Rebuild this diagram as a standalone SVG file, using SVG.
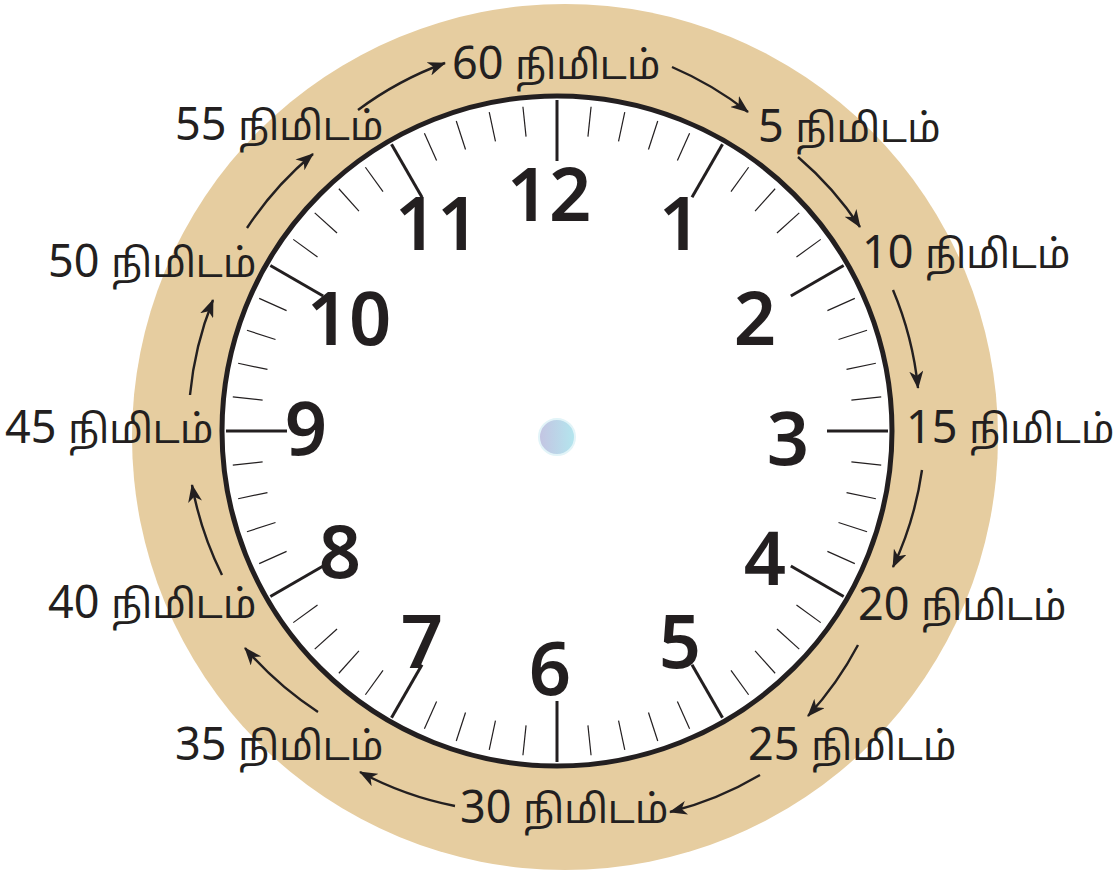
<svg xmlns="http://www.w3.org/2000/svg" xmlns:xlink="http://www.w3.org/1999/xlink" width="1115" height="875" viewBox="0 0 1115 875">
<style>
.lbl{font-family:"Noto Sans","Liberation Sans",sans-serif;font-size:45px;fill:#231f20}
.ta{font-family:"Noto Sans Tamil","Noto Sans",sans-serif;font-size:39px}
.num{font-family:"Noto Sans","Liberation Sans",sans-serif;font-weight:600;font-size:74px;fill:#231f20;text-anchor:middle}
.arr{fill:none;stroke:#231f20;stroke-width:2.4}
.minor{stroke:#231f20;stroke-width:1.2}
.major{stroke:#231f20;stroke-width:3}
</style>
<defs>
<marker id="ah" viewBox="0 0 18 14" markerWidth="18" markerHeight="14" refX="17" refY="7" orient="auto" markerUnits="userSpaceOnUse">
<path d="M0,0 L18,7 L0,14 L5,7 z" fill="#231f20"/>
</marker>
<linearGradient id="dotg" x1="0" y1="0" x2="1" y2="0">
<stop offset="0" stop-color="#c4c4e2"/>
<stop offset="1" stop-color="#b3e6ee"/>
</linearGradient>
<line id="mi" class="minor" x1="557" y1="105" x2="557" y2="135"/>
<line id="ma" class="major" x1="557" y1="100" x2="557" y2="161"/>
</defs>
<g id="band"><circle cx="565" cy="437" r="433" fill="#e6cda0"/></g>
<g id="face">
<circle cx="557" cy="431" r="335" fill="#ffffff" stroke="#231f20" stroke-width="5"/>
</g>
<g id="ticks">
<use xlink:href="#ma" transform="rotate(0 557 431)"/>
<use xlink:href="#mi" transform="rotate(6 557 431)"/>
<use xlink:href="#mi" transform="rotate(12 557 431)"/>
<use xlink:href="#mi" transform="rotate(18 557 431)"/>
<use xlink:href="#mi" transform="rotate(24 557 431)"/>
<use xlink:href="#ma" transform="rotate(30 557 431)"/>
<use xlink:href="#mi" transform="rotate(36 557 431)"/>
<use xlink:href="#mi" transform="rotate(42 557 431)"/>
<use xlink:href="#mi" transform="rotate(48 557 431)"/>
<use xlink:href="#mi" transform="rotate(54 557 431)"/>
<use xlink:href="#ma" transform="rotate(60 557 431)"/>
<use xlink:href="#mi" transform="rotate(66 557 431)"/>
<use xlink:href="#mi" transform="rotate(72 557 431)"/>
<use xlink:href="#mi" transform="rotate(78 557 431)"/>
<use xlink:href="#mi" transform="rotate(84 557 431)"/>
<use xlink:href="#ma" transform="rotate(90 557 431)"/>
<use xlink:href="#mi" transform="rotate(96 557 431)"/>
<use xlink:href="#mi" transform="rotate(102 557 431)"/>
<use xlink:href="#mi" transform="rotate(108 557 431)"/>
<use xlink:href="#mi" transform="rotate(114 557 431)"/>
<use xlink:href="#ma" transform="rotate(120 557 431)"/>
<use xlink:href="#mi" transform="rotate(126 557 431)"/>
<use xlink:href="#mi" transform="rotate(132 557 431)"/>
<use xlink:href="#mi" transform="rotate(138 557 431)"/>
<use xlink:href="#mi" transform="rotate(144 557 431)"/>
<use xlink:href="#ma" transform="rotate(150 557 431)"/>
<use xlink:href="#mi" transform="rotate(156 557 431)"/>
<use xlink:href="#mi" transform="rotate(162 557 431)"/>
<use xlink:href="#mi" transform="rotate(168 557 431)"/>
<use xlink:href="#mi" transform="rotate(174 557 431)"/>
<use xlink:href="#ma" transform="rotate(180 557 431)"/>
<use xlink:href="#mi" transform="rotate(186 557 431)"/>
<use xlink:href="#mi" transform="rotate(192 557 431)"/>
<use xlink:href="#mi" transform="rotate(198 557 431)"/>
<use xlink:href="#mi" transform="rotate(204 557 431)"/>
<use xlink:href="#ma" transform="rotate(210 557 431)"/>
<use xlink:href="#mi" transform="rotate(216 557 431)"/>
<use xlink:href="#mi" transform="rotate(222 557 431)"/>
<use xlink:href="#mi" transform="rotate(228 557 431)"/>
<use xlink:href="#mi" transform="rotate(234 557 431)"/>
<use xlink:href="#ma" transform="rotate(240 557 431)"/>
<use xlink:href="#mi" transform="rotate(246 557 431)"/>
<use xlink:href="#mi" transform="rotate(252 557 431)"/>
<use xlink:href="#mi" transform="rotate(258 557 431)"/>
<use xlink:href="#mi" transform="rotate(264 557 431)"/>
<use xlink:href="#ma" transform="rotate(270 557 431)"/>
<use xlink:href="#mi" transform="rotate(276 557 431)"/>
<use xlink:href="#mi" transform="rotate(282 557 431)"/>
<use xlink:href="#mi" transform="rotate(288 557 431)"/>
<use xlink:href="#mi" transform="rotate(294 557 431)"/>
<use xlink:href="#ma" transform="rotate(300 557 431)"/>
<use xlink:href="#mi" transform="rotate(306 557 431)"/>
<use xlink:href="#mi" transform="rotate(312 557 431)"/>
<use xlink:href="#mi" transform="rotate(318 557 431)"/>
<use xlink:href="#mi" transform="rotate(324 557 431)"/>
<use xlink:href="#ma" transform="rotate(330 557 431)"/>
<use xlink:href="#mi" transform="rotate(336 557 431)"/>
<use xlink:href="#mi" transform="rotate(342 557 431)"/>
<use xlink:href="#mi" transform="rotate(348 557 431)"/>
<use xlink:href="#mi" transform="rotate(354 557 431)"/>
</g>
<g id="numerals">
<text class="num" x="549" y="221">12</text>
<text class="num" x="680" y="250">1</text>
<text class="num" x="755" y="345">2</text>
<text class="num" x="788" y="465">3</text>
<text class="num" x="765" y="585">4</text>
<text class="num" x="680" y="668">5</text>
<text class="num" x="550" y="695">6</text>
<text class="num" x="422" y="668">7</text>
<text class="num" x="340" y="578">8</text>
<text class="num" x="306" y="455">9</text>
<text class="num" x="349" y="345">10</text>
<text class="num" x="437" y="250">11</text>
</g>
<g id="center-dot"><circle cx="557" cy="437" r="18" fill="url(#dotg)" stroke="#e2f4f8" stroke-width="2"/></g>
<g id="connectors">
<path class="arr" marker-end="url(#ah)" d="M358,110 A340,340 0 0 1 445,63"/>
<path class="arr" marker-end="url(#ah)" d="M672,67 A340,340 0 0 1 748,112"/>
<path class="arr" marker-end="url(#ah)" d="M798,157 A340,340 0 0 1 860,227"/>
<path class="arr" marker-end="url(#ah)" d="M893,290 A340,340 0 0 1 918,388"/>
<path class="arr" marker-end="url(#ah)" d="M922,470 A340,340 0 0 1 893,567"/>
<path class="arr" marker-end="url(#ah)" d="M858,645 A340,340 0 0 1 808,716"/>
<path class="arr" marker-end="url(#ah)" d="M760,775 A340,340 0 0 1 670,812"/>
<path class="arr" marker-end="url(#ah)" d="M455,806 A340,340 0 0 1 360,772"/>
<path class="arr" marker-end="url(#ah)" d="M318,712 A340,340 0 0 1 245,648"/>
<path class="arr" marker-end="url(#ah)" d="M222,575 A340,340 0 0 1 192,485"/>
<path class="arr" marker-end="url(#ah)" d="M190,395 A340,340 0 0 1 213,300"/>
<path class="arr" marker-end="url(#ah)" d="M247,228 A340,340 0 0 1 313,154"/>
</g>
<g id="labels">
<text id="l60" class="lbl" x="452" y="79">60 <tspan class="ta">நிமிடம்</tspan></text>
<text id="l5" class="lbl" x="758" y="142">5 <tspan class="ta">நிமிடம்</tspan></text>
<text id="l10" class="lbl" x="862" y="268">10 <tspan class="ta">நிமிடம்</tspan></text>
<text id="l15" class="lbl" x="906" y="443">15 <tspan class="ta">நிமிடம்</tspan></text>
<text id="l20" class="lbl" x="858" y="620">20 <tspan class="ta">நிமிடம்</tspan></text>
<text id="l25" class="lbl" x="748" y="760">25 <tspan class="ta">நிமிடம்</tspan></text>
<text id="l30" class="lbl" x="460" y="823">30 <tspan class="ta">நிமிடம்</tspan></text>
<text id="l35" class="lbl" x="175" y="760">35 <tspan class="ta">நிமிடம்</tspan></text>
<text id="l40" class="lbl" x="48" y="618">40 <tspan class="ta">நிமிடம்</tspan></text>
<text id="l45" class="lbl" x="5" y="443">45 <tspan class="ta">நிமிடம்</tspan></text>
<text id="l50" class="lbl" x="48" y="277">50 <tspan class="ta">நிமிடம்</tspan></text>
<text id="l55" class="lbl" x="175" y="140">55 <tspan class="ta">நிமிடம்</tspan></text>
</g>
</svg>
